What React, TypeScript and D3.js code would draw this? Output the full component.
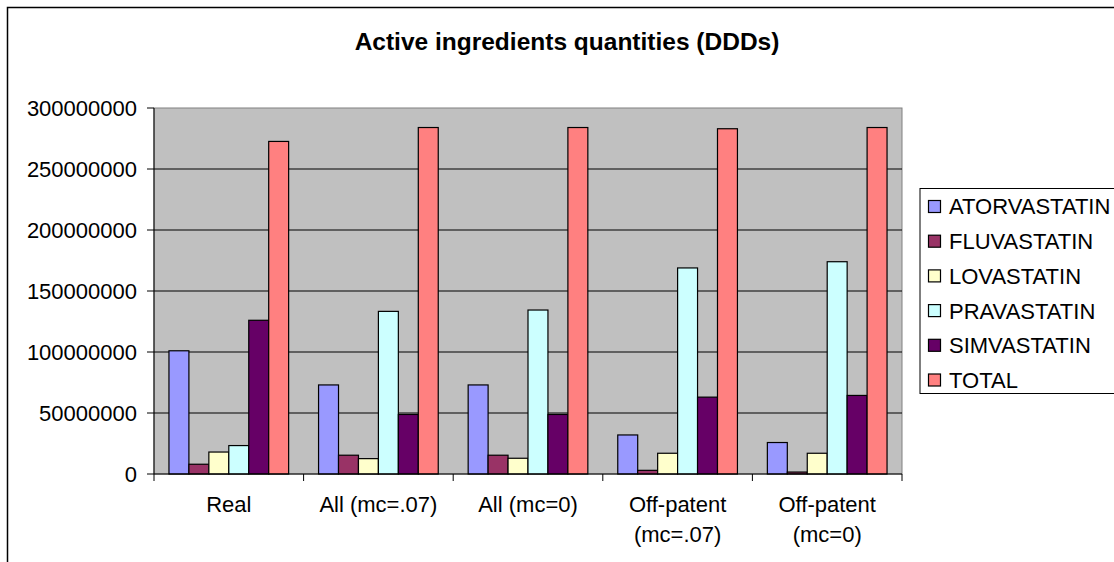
import React from "react";
import * as d3 from "d3";

const categories: string[][] = [
  ["Real"],
  ["All (mc=.07)"],
  ["All (mc=0)"],
  ["Off-patent", "(mc=.07)"],
  ["Off-patent", "(mc=0)"],
];
const seriesNames = ["ATORVASTATIN", "FLUVASTATIN", "LOVASTATIN", "PRAVASTATIN", "SIMVASTATIN", "TOTAL"];
const seriesColors = ["#9999FF", "#993366", "#FFFFCC", "#CCFFFF", "#660066", "#FF8080"];

const atorvastatin = [101000000, 73000000, 73000000, 32000000, 25800000];
const fluvastatin = [8000000, 15400000, 15400000, 3000000, 1600000];
const lovastatin = [18000000, 12600000, 12900000, 17000000, 17000000];
const pravastatin = [23300000, 133300000, 134400000, 168900000, 174000000];
const simvastatin = [126000000, 48800000, 48800000, 63000000, 64400000];
const total = [272600000, 284000000, 284000000, 283000000, 284000000];
const seriesValues = [atorvastatin, fluvastatin, lovastatin, pravastatin, simvastatin, total];

const yTicks = [0, 50000000, 100000000, 150000000, 200000000, 250000000, 300000000];
const title = "Active ingredients quantities (DDDs)";

export default function App() {
  const W = 1114, H = 562;
  const plot = { left: 154, right: 902, top: 108, bottom: 474 };
  const font = "Liberation Sans, Arial, sans-serif";
  const fs = 22;

  const x0 = d3.scaleBand<number>().domain(d3.range(categories.length)).range([plot.left, plot.right]).paddingInner(0).paddingOuter(0);
  const bw = x0.bandwidth();
  const barW = bw / (seriesNames.length + 1.5);
  const x1 = d3.scaleBand<number>().domain(d3.range(seriesNames.length)).range([barW * 0.75, bw - barW * 0.75]).padding(0);
  const y = d3.scaleLinear().domain([0, 300000000]).range([plot.bottom, plot.top]);

  const legend = { x: 920, y: 188.5, w: 200, h: 205, rowH: 34.7, first: 206.5 };

  return (
    <svg width={W} height={H} style={{ position: "absolute", left: 0, top: 0, background: "#fff" }} fontFamily={font}>
      <rect x={0} y={0} width={W} height={H} fill="#fff" />
      <rect x={7.5} y={7.5} width={W + 20} height={H + 20} fill="none" stroke="#000" strokeWidth={1.5} />
      <text x={567} y={50} textAnchor="middle" fontSize={24.5} fontWeight="bold" fill="#000">{title}</text>

      <rect x={plot.left} y={plot.top} width={plot.right - plot.left} height={plot.bottom - plot.top} fill="#C0C0C0" stroke="#808080" strokeWidth={1} />
      {yTicks.map((t, i) => (
        <g key={i}>
          {t !== 0 && t !== 300000000 && (
            <line x1={plot.left} x2={plot.right} y1={y(t)} y2={y(t)} stroke="#000" strokeWidth={1} />
          )}
          <line x1={plot.left - 7} x2={plot.left} y1={y(t)} y2={y(t)} stroke="#000" strokeWidth={1} />
          <text x={137} y={y(t)} dy="0.36em" textAnchor="end" fontSize={fs} fill="#000">{String(t)}</text>
        </g>
      ))}

      {categories.map((c, ci) => (
        <g key={ci} transform={`translate(${x0(ci)},0)`}>
          {seriesValues.map((vals, si) => (
            <rect key={si} x={x1(si)} y={y(vals[ci])} width={x1.bandwidth()} height={y(0) - y(vals[ci])}
              fill={seriesColors[si]} stroke="#000" strokeWidth={1.2} />
          ))}
        </g>
      ))}

      <line x1={plot.left} x2={plot.left} y1={plot.top} y2={plot.bottom} stroke="#000" strokeWidth={1} />
      <line x1={plot.left} x2={plot.right} y1={plot.bottom} y2={plot.bottom} stroke="#000" strokeWidth={1} />
      {d3.range(categories.length + 1).map((i) => {
        const xx = plot.left + i * bw;
        return <line key={i} x1={xx} x2={xx} y1={plot.bottom} y2={plot.bottom + 7} stroke="#000" strokeWidth={1} />;
      })}
      {categories.map((lines, ci) => (
        <text key={ci} x={(x0(ci) as number) + bw / 2} y={512} textAnchor="middle" fontSize={fs} fill="#000">
          {lines.map((l, li) => (
            <tspan key={li} x={(x0(ci) as number) + bw / 2} dy={li === 0 ? 0 : 30}>{l}</tspan>
          ))}
        </text>
      ))}

      <rect x={legend.x} y={legend.y} width={legend.w} height={legend.h} fill="#fff" stroke="#000" strokeWidth={1} />
      {seriesNames.map((n, i) => {
        const cy = legend.first + i * legend.rowH;
        return (
          <g key={i}>
            <rect x={928.5} y={cy - 6} width={12} height={12} fill={seriesColors[i]} stroke="#000" strokeWidth={1.2} />
            <text x={949} y={cy} dy="0.36em" fontSize={fs} fill="#000">{n}</text>
          </g>
        );
      })}
    </svg>
  );
}
